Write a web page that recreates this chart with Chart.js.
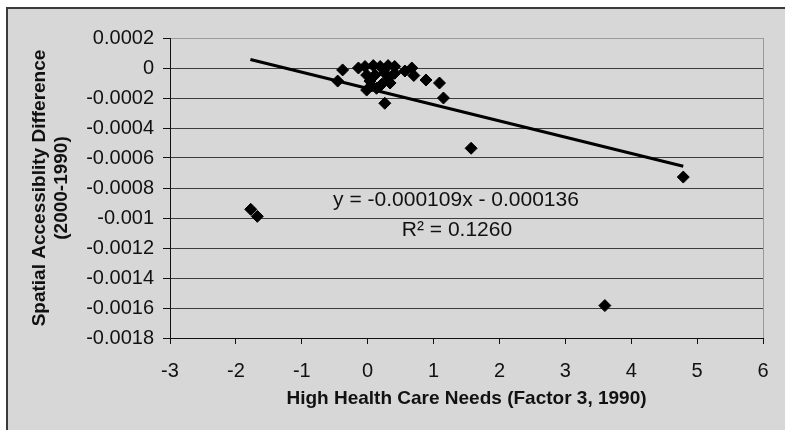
<!DOCTYPE html>
<html>
<head>
<meta charset="utf-8">
<script src="https://cdn.jsdelivr.net/npm/chart.js@4.4.1/dist/chart.umd.min.js"></script>
<style>
  html, body { margin: 0; padding: 0; background: #fff; }
  canvas { display: block; }
</style>
</head>
<body>
<canvas id="chart" width="785" height="430"></canvas>
<script>
// health care needs factor (x) vs change in spatial accessibility (y)
const needs = [
  -1.775, -1.675, -0.38, -0.455, -0.14, -0.04, 0.085, 0.19, 0.31, 0.41,
  0.41, 0.26, -0.015, 0.035, 0.11, 0.31, 0.34, 0.21, 0.06, -0.015,
  0.135, 0.26, 0.565, 0.67, 0.70, 0.885, 1.09, 1.15, 1.57, 3.60, 4.79
];
const accessDiff = [
  -0.000942, -0.000989, -0.000013, -0.000087, 0, 0.00001, 0.000016, 0.00001, 0.000016, 0.00001,
  -0.000035, -0.000035, -0.000047, -0.000087, -0.000047, -0.00007, -0.0001, -0.00011, -0.00012, -0.000147,
  -0.000135, -0.000235, -0.00002, 0, -0.00005, -0.00008, -0.0001, -0.0002, -0.000535, -0.001584, -0.000727
];
const trendX = [-1.78, 4.79];
const trendY = [0.000057, -0.000655];
const xTicks = [-3, -2, -1, 0, 1, 2, 3, 4, 5, 6];
const yTicks = [0.0002, 0, -0.0002, -0.0004, -0.0006, -0.0008, -0.001, -0.0012, -0.0014, -0.0016, -0.0018];
const equation = ['y = -0.000109x - 0.000136', 'R\u00B2 = 0.1260'];

const FONT = '"Liberation Sans", Arial, Helvetica, sans-serif';
const INK = '#111';

const frame = {
  id: 'frame',
  beforeDraw(chart) {
    const c = chart.ctx;
    c.save();
    c.fillStyle = '#fff';
    c.fillRect(0, 0, chart.width, chart.height);
    c.fillStyle = '#d7d7d7';
    c.fillRect(7, 8, chart.width - 7, chart.height - 8);
    c.strokeStyle = '#3a3a3a';
    c.lineWidth = 2;
    c.beginPath();
    c.moveTo(7, chart.height);
    c.lineTo(7, 8);
    c.lineTo(chart.width, 8);
    c.stroke();
    c.restore();
  },
  afterDraw(chart) {
    const c = chart.ctx;
    c.save();
    c.fillStyle = INK;
    c.font = '21px ' + FONT;
    c.textAlign = 'center';
    c.textBaseline = 'middle';
    c.fillText(equation[0], 456, 200);
    c.fillText(equation[1], 457, 230);
    c.restore();
  }
};

new Chart(document.getElementById('chart'), {
  type: 'scatter',
  data: {
    datasets: [
      {
        type: 'line',
        data: trendX.map((x, i) => ({x, y: trendY[i]})),
        borderColor: '#000',
        borderWidth: 3,
        pointRadius: 0,
        fill: false
      },
      {
        data: needs.map((x, i) => ({x, y: accessDiff[i]})),
        pointStyle: 'rectRot',
        pointRadius: 6,
        backgroundColor: '#000',
        borderColor: '#000',
        borderWidth: 1
      }
    ]
  },
  options: {
    responsive: false,
    animation: false,
    devicePixelRatio: 1,
    layout: { padding: { top: 38, right: 22, left: 0, bottom: 0 } },
    plugins: { legend: { display: false }, tooltip: { enabled: false } },
    scales: {
      x: {
        type: 'linear',
        min: -3,
        max: 6,
        afterBuildTicks(scale) { scale.ticks = xTicks.map(v => ({value: v})); },
        afterFit(scale) { scale.height = 92; },
        grid: {
          drawOnChartArea: true,
          color: ctx => ctx.index === xTicks.length - 1 ? '#9a9a9a' : 'rgba(0,0,0,0)',
          tickColor: INK,
          tickLength: 6
        },
        border: { color: INK, width: 1 },
        ticks: { color: INK, font: { family: FONT, size: 20 }, padding: 15, maxRotation: 0 },
        title: {
          display: true,
          text: 'High Health Care Needs (Factor 3, 1990)',
          color: INK,
          font: { family: FONT, size: 19, weight: 'bold' },
          padding: { top: 0, bottom: 20 }
        }
      },
      y: {
        type: 'linear',
        min: -0.0018,
        max: 0.0002,
        afterBuildTicks(scale) { scale.ticks = yTicks.map(v => ({value: v})); },
        afterFit(scale) { scale.width = 170; },
        grid: {
          color: ctx => ctx.tick && ctx.tick.value === 0.0002 ? '#9a9a9a' : '#3c3c3c',
          tickColor: INK,
          tickLength: 7
        },
        border: { color: INK, width: 1 },
        ticks: {
          color: INK,
          font: { family: FONT, size: 20 },
          padding: 9,
          callback: v => String(Number(v.toFixed(4)))
        },
        title: {
          display: true,
          text: ['Spatial Accessiblity Difference', '(2000-1990)'],
          color: INK,
          font: { family: FONT, size: 19, weight: 'bold', lineHeight: '22px' },
          padding: { top: 29, bottom: 0 }
        }
      }
    }
  },
  plugins: [frame]
});
</script>
</body>
</html>
